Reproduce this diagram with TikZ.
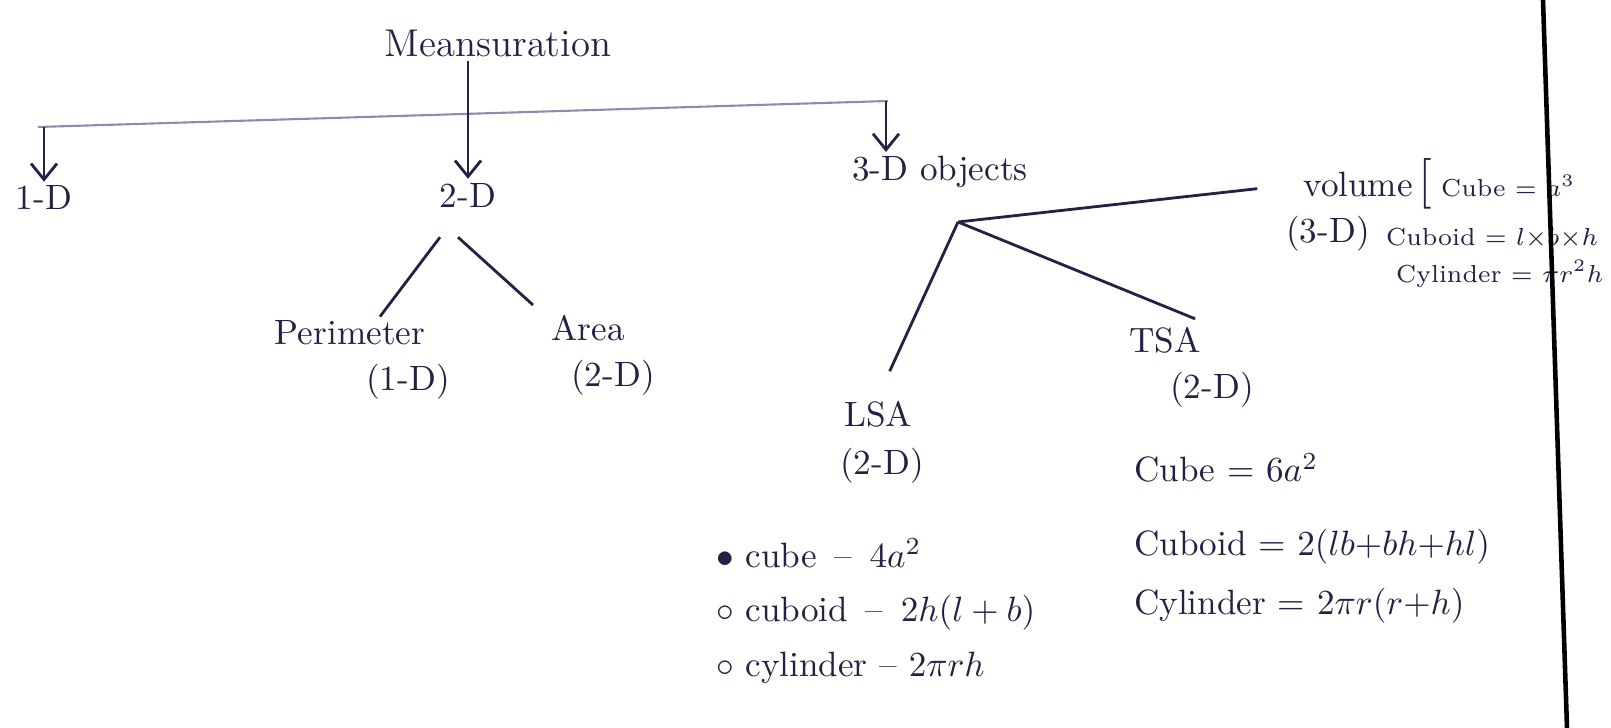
\documentclass[tikz,border=0pt]{standalone}
\usepackage{amsmath,amssymb}
\usepackage{tikz}
\usepackage{xcolor}
\usetikzlibrary{arrows.meta,positioning,calc}
\definecolor{InkColor}{RGB}{34,34,70}
\definecolor{PencilColor}{RGB}{150,136,172}

\begin{document}
\begin{tikzpicture}[x=0.01cm, y=-0.01cm,
    every node/.style={text=InkColor, inner sep=1pt, font=\fontsize{10}{12}\selectfont},
    ink/.style={draw=InkColor, line width=0.8pt},
    arr/.style={ink, -{Straight Barb[length=1.6mm,width=2.6mm]}},
    small/.style={font=\fontsize{7}{9}\selectfont}]
        \useasboundingbox (0,0) rectangle (1611,728);
        % title and the three kinds
        \node (title) at (498,43) {\fontsize{11}{13}\selectfont Meansuration};
        \node (d1) at (44,198) {1-D};
        \node (d2) at (468,195) {2-D};
        \node (d3) at (940,172) {3-D objects};
        \coordinate (hl) at (38,127);
        \coordinate (hr) at (888,101);
        \coordinate (t3) at (886,101);
        \coordinate (j3) at (958,222);
        \draw[PencilColor, line width=0.6pt] (hl) -- (hr);
        \draw[arr] (hl -| d1) -- (d1.north);
        \draw[arr] (title.south -| d2) -- (d2.north);
        \draw[arr] (t3) -- (t3 |- d3.north);
        % 2-D branch
        \node (per) at (350,333) {Perimeter};
        \node (perd) at (408,382) {(1-D)};
        \node (area) at (588,328) {Area};
        \node (aread) at (613,378) {(2-D)};
        \draw[ink] ($(d2.south)+(-28,26)$) -- ($(per.north)+(30,0)$);
        \draw[ink] ($(d2.south)+(-10,26)$) -- ($(area.north)+(-55,-6)$);
        % 3-D branch
        \node (lsa) at (878,414) {LSA};
        \node (lsad) at (882,466) {(2-D)};
        \node (tsa) at (1165,340) {TSA};
        \node (tsad) at (1212,390) {(2-D)};
        \node (vol) at (1368,184) {volume\,{\Large[}};
        \node (vold) at (1328,234) {(3-D)};
        \draw[ink, shorten >=8pt] (j3) -- (lsa.north);
        \draw[ink, shorten >=3pt] (j3) -- (tsa.north east);
        \draw[ink, shorten >=12pt] (j3) -- (vol.west);
        % formulas
        \node[anchor=west] (lc1) at (712,553) {$\bullet$ cube \,--\, $4a^2$};
        \node[anchor=west] (lc2) at (712,613) {$\circ$ cuboid \,--\, $2h(l+b)$};
        \node[anchor=west] (lc3) at (712,668) {$\circ$ cylinder -- $2\pi rh$};
        \node[anchor=west] (tc1) at (1130,468) {Cube = $6a^2$};
        \node[anchor=west] (tc2) at (1130,547) {Cuboid = $2(lb{+}bh{+}hl)$};
        \node[anchor=west] (tc3) at (1130,606) {Cylinder = $2\pi r(r{+}h)$};
        \node[anchor=west, small] (vc1) at (1437,186) {Cube = $a^3$};
        \node[anchor=west, small] (vc2) at (1382,238) {Cuboid = $l{\times}b{\times}h$};
        \node[anchor=west, small] (vc3) at (1392,274) {Cylinder = $\pi r^2h$};
        % margin line of the page
        \draw[black, line width=1.3pt] (1543,0) -- (1567,728);
\end{tikzpicture}
\end{document}
